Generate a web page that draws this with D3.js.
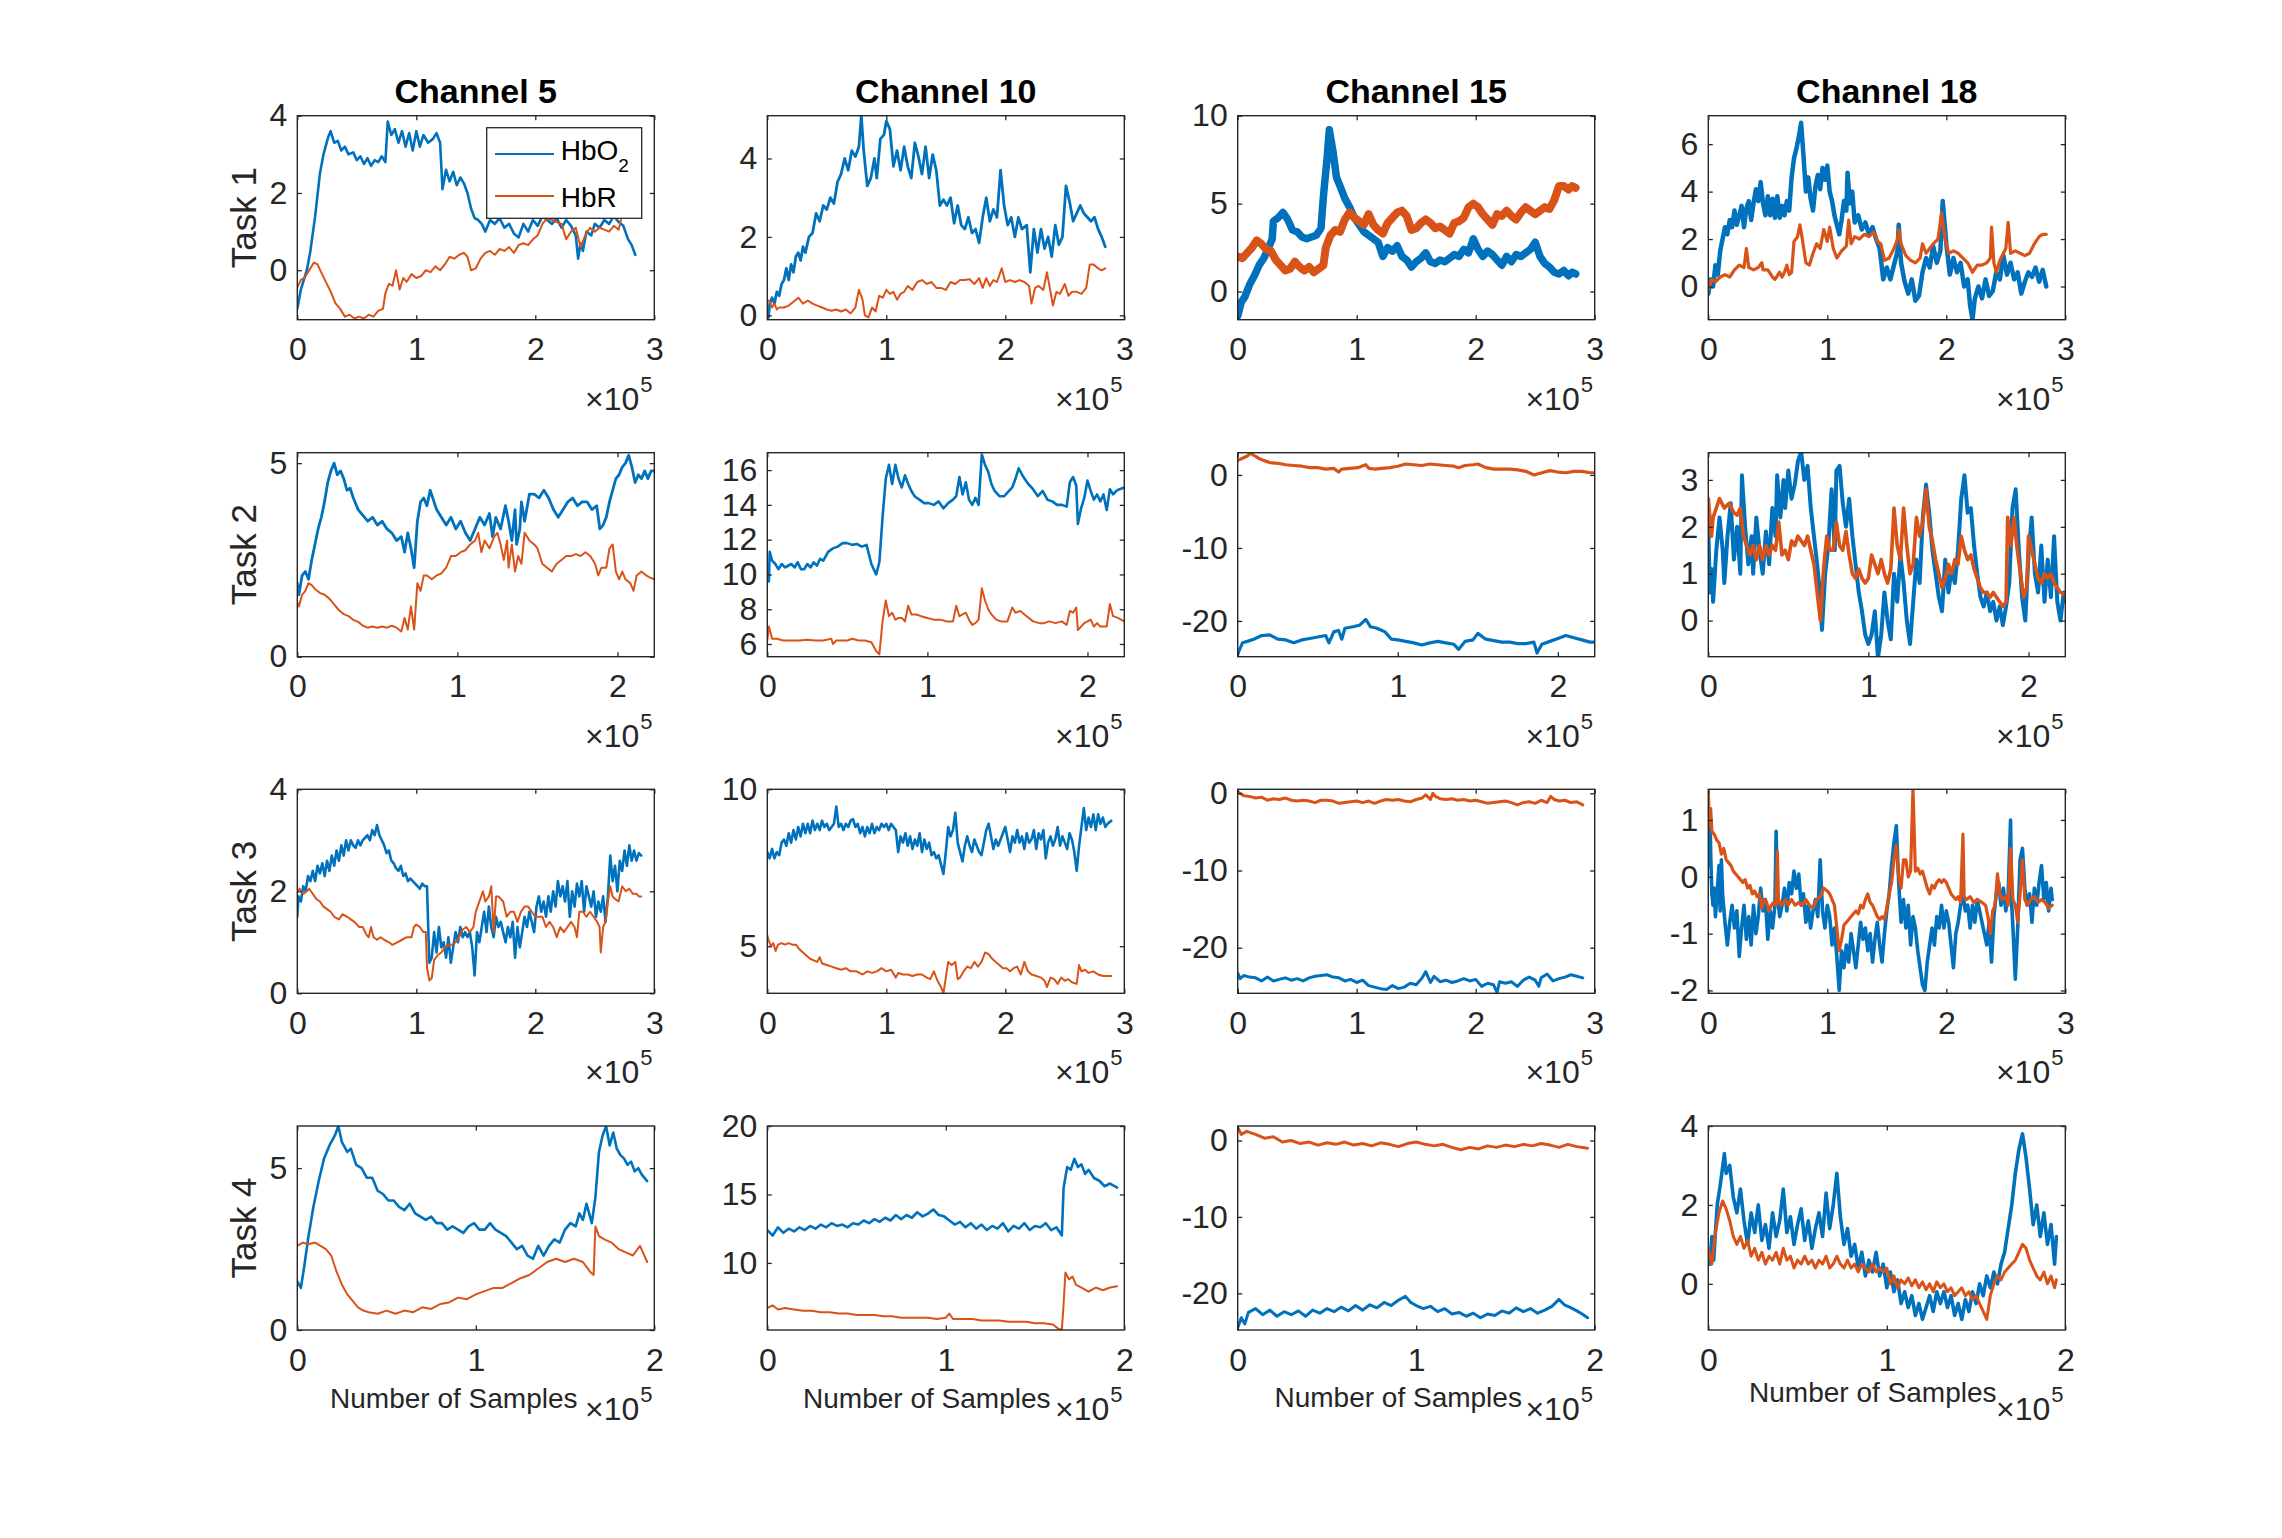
<!DOCTYPE html>
<html><head><meta charset="utf-8">
<script src="https://cdn.jsdelivr.net/npm/d3@7"></script>
<style>
body{margin:0;background:#fff}
text{font-family:"Liberation Sans",Arial,Helvetica,sans-serif}
</style>
</head><body>
<svg id="chart" width="2282" height="1538"></svg>
<script>
// ---------------- data (x in units of 10^5 samples) ----------------
const channels = ["Channel 5", "Channel 10", "Channel 15", "Channel 18"];
const tasks = ["Task 1", "Task 2", "Task 3", "Task 4"];
const seriesNames = ["HbO", "HbR"];
const xLimits = [3, 2.23, 3, 2];
const xTickValues = [[0,1,2,3],[0,1,2],[0,1,2,3],[0,1,2]];
const yLimits = [
  [[-1.28,4],[-0.11,5.09],[-1.6,10],[-1.4,7.2]],
  [[0,5.27],[5.27,17],[-24.9,3.05],[-0.77,3.58]],
  [[0,4],[3.5,10],[-25.9,0.52],[-2.05,1.54]],
  [[0,6.3],[5.1,20],[-24.8,1.9],[-1.17,4]]
];
const yTickValues = [
  [[0,2,4],[0,2,4],[0,5,10],[0,2,4,6]],
  [[0,5],[6,8,10,12,14,16],[-20,-10,0],[0,1,2,3]],
  [[0,2,4],[5,10],[-20,-10,0],[-2,-1,0,1]],
  [[0,5],[10,15,20],[-20,-10,0],[0,2,4]]
];

// Task 1
const t1c5_hbo = [[0,-1.0],[0.03,-0.5],[0.06,-0.2],[0.08,0.0],[0.11,0.5],[0.15,1.4],[0.19,2.5],[0.22,3.0],[0.26,3.45],[0.28,3.6],[0.31,3.3],[0.34,3.35],[0.37,3.1],[0.4,3.2],[0.43,3.0],[0.47,3.05],[0.5,2.85],[0.53,2.95],[0.56,2.75],[0.59,2.9],[0.62,2.7],[0.65,2.85],[0.68,2.8],[0.71,2.95],[0.74,2.8],[0.76,3.85],[0.79,3.5],[0.82,3.65],[0.85,3.3],[0.88,3.6],[0.91,3.2],[0.94,3.55],[0.97,3.1],[1.0,3.6],[1.03,3.2],[1.06,3.5],[1.1,3.3],[1.14,3.4],[1.17,3.55],[1.2,3.3],[1.22,2.1],[1.25,2.6],[1.28,2.3],[1.31,2.55],[1.34,2.2],[1.37,2.4],[1.4,2.25],[1.43,2.0],[1.46,1.6],[1.49,1.35],[1.52,1.3],[1.55,1.2],[1.58,1.0],[1.62,1.3],[1.66,1.2],[1.7,1.35],[1.74,1.1],[1.78,1.2],[1.82,0.95],[1.86,0.85],[1.9,1.2],[1.94,1.0],[1.98,1.3],[2.02,1.15],[2.06,1.4],[2.1,1.3],[2.14,1.2],[2.18,1.35],[2.22,1.1],[2.26,1.3],[2.3,1.15],[2.34,0.9],[2.36,0.3],[2.38,0.7],[2.4,0.5],[2.43,1.0],[2.47,0.9],[2.5,1.2],[2.54,1.1],[2.58,1.3],[2.62,1.2],[2.66,1.4],[2.7,1.25],[2.74,1.15],[2.78,0.8],[2.81,0.65],[2.84,0.4]];
const t1c5_hbr = [[0,-0.45],[0.03,-0.25],[0.06,-0.2],[0.1,0.0],[0.14,0.2],[0.17,0.15],[0.2,-0.05],[0.24,-0.3],[0.28,-0.55],[0.32,-0.85],[0.36,-1.0],[0.4,-1.2],[0.44,-1.15],[0.48,-1.25],[0.52,-1.2],[0.56,-1.25],[0.6,-1.15],[0.64,-1.2],[0.68,-1.05],[0.72,-1.0],[0.74,-0.6],[0.77,-0.35],[0.8,-0.4],[0.83,0.0],[0.86,-0.5],[0.89,-0.2],[0.92,-0.3],[0.96,-0.1],[1.0,-0.2],[1.04,-0.15],[1.08,0.0],[1.12,-0.05],[1.16,0.1],[1.2,0.0],[1.24,0.15],[1.28,0.35],[1.32,0.3],[1.36,0.4],[1.4,0.45],[1.43,0.35],[1.46,0.0],[1.5,0.05],[1.54,0.3],[1.58,0.45],[1.62,0.5],[1.66,0.4],[1.7,0.55],[1.74,0.5],[1.78,0.6],[1.82,0.45],[1.86,0.65],[1.9,0.7],[1.94,0.65],[1.98,0.8],[2.02,0.9],[2.06,1.2],[2.1,1.35],[2.14,1.3],[2.18,1.25],[2.22,1.2],[2.26,0.8],[2.3,1.0],[2.34,1.1],[2.38,0.6],[2.42,0.9],[2.46,1.1],[2.5,1.0],[2.54,1.1],[2.58,1.05],[2.62,1.0],[2.66,1.15],[2.7,1.05],[2.72,1.3]];
const t1c10_hbo = [[0,0.1],[0.01,-0.05],[0.02,0.3],[0.04,0.45],[0.06,0.3],[0.08,0.6],[0.1,0.5],[0.12,0.8],[0.14,0.9],[0.16,1.2],[0.18,0.9],[0.2,1.3],[0.22,1.1],[0.24,1.5],[0.26,1.6],[0.28,1.4],[0.3,1.75],[0.32,1.6],[0.35,2.0],[0.38,2.1],[0.41,2.6],[0.44,2.4],[0.47,2.8],[0.5,2.7],[0.53,3.0],[0.56,2.85],[0.59,3.4],[0.62,3.6],[0.65,4.0],[0.68,3.7],[0.71,4.2],[0.74,4.05],[0.77,4.3],[0.79,5.1],[0.81,4.2],[0.84,3.3],[0.87,3.5],[0.9,4.0],[0.92,3.5],[0.95,4.5],[0.98,4.6],[1.0,4.95],[1.03,4.75],[1.06,3.8],[1.09,4.2],[1.12,3.7],[1.15,4.3],[1.18,3.8],[1.21,3.5],[1.24,4.4],[1.27,4.05],[1.3,3.6],[1.33,4.3],[1.36,3.5],[1.39,4.1],[1.42,3.7],[1.45,2.8],[1.48,2.95],[1.51,2.8],[1.54,3.0],[1.57,2.35],[1.6,2.8],[1.63,2.3],[1.66,2.2],[1.69,2.5],[1.72,2.1],[1.75,2.2],[1.78,1.85],[1.81,2.5],[1.84,3.0],[1.87,2.4],[1.9,2.7],[1.93,2.5],[1.96,3.7],[1.99,2.8],[2.02,2.3],[2.05,2.5],[2.08,2.0],[2.11,2.5],[2.14,2.2],[2.18,2.3],[2.21,1.1],[2.24,2.2],[2.27,1.6],[2.3,2.2],[2.33,1.7],[2.36,2.0],[2.39,1.5],[2.42,2.3],[2.45,1.8],[2.48,2.0],[2.51,3.3],[2.54,2.9],[2.57,2.4],[2.6,2.6],[2.63,2.8],[2.66,2.6],[2.69,2.5],[2.72,2.4],[2.75,2.5],[2.78,2.2],[2.81,2.0],[2.84,1.75]];
const t1c10_hbr = [[0,0.4],[0.02,0.35],[0.04,0.2],[0.06,0.3],[0.08,0.15],[0.1,0.2],[0.14,0.2],[0.18,0.25],[0.22,0.35],[0.26,0.45],[0.3,0.3],[0.34,0.38],[0.38,0.3],[0.42,0.25],[0.46,0.2],[0.5,0.15],[0.54,0.12],[0.58,0.15],[0.62,0.1],[0.66,0.15],[0.7,0.05],[0.74,0.2],[0.77,0.65],[0.8,0.4],[0.82,0.0],[0.85,-0.05],[0.88,0.2],[0.91,0.1],[0.94,0.5],[0.97,0.45],[1.0,0.65],[1.03,0.55],[1.06,0.6],[1.09,0.4],[1.12,0.55],[1.15,0.6],[1.18,0.75],[1.22,0.65],[1.26,0.85],[1.3,0.9],[1.34,0.8],[1.38,0.85],[1.42,0.7],[1.46,0.7],[1.5,0.65],[1.54,0.85],[1.58,0.8],[1.62,0.9],[1.66,0.9],[1.7,0.92],[1.74,0.8],[1.78,0.95],[1.81,0.7],[1.84,0.95],[1.87,0.75],[1.9,0.9],[1.93,0.85],[1.97,1.2],[2.0,0.85],[2.04,0.9],[2.08,0.85],[2.12,0.9],[2.16,0.85],[2.2,0.75],[2.22,0.3],[2.25,0.7],[2.28,0.75],[2.32,0.65],[2.35,1.1],[2.38,0.6],[2.4,0.25],[2.43,0.6],[2.46,0.55],[2.5,0.8],[2.53,0.5],[2.56,0.6],[2.6,0.6],[2.64,0.55],[2.68,0.7],[2.71,1.3],[2.74,1.3],[2.78,1.2],[2.81,1.15],[2.84,1.2]];
const t1c15_hbo = [[0,-1.4],[0.03,-0.6],[0.06,-0.3],[0.1,0.4],[0.14,0.9],[0.18,1.5],[0.22,1.9],[0.26,2.5],[0.29,3.0],[0.3,4.0],[0.34,4.2],[0.38,4.5],[0.42,4.1],[0.46,3.5],[0.5,3.4],[0.54,3.1],[0.58,3.0],[0.62,3.1],[0.66,3.2],[0.7,3.6],[0.72,5.4],[0.75,7.5],[0.77,9.2],[0.8,8.0],[0.83,6.5],[0.86,6.0],[0.9,5.3],[0.94,4.8],[0.98,4.2],[1.02,3.8],[1.06,3.4],[1.1,3.2],[1.14,3.0],[1.18,2.8],[1.22,2.0],[1.26,2.5],[1.3,2.3],[1.34,2.6],[1.38,2.0],[1.42,1.8],[1.46,1.4],[1.5,1.7],[1.54,1.9],[1.58,2.2],[1.62,1.7],[1.66,1.6],[1.7,1.8],[1.74,1.7],[1.78,1.9],[1.82,2.1],[1.86,2.0],[1.9,2.4],[1.94,2.2],[1.98,3.0],[2.02,2.4],[2.06,2.0],[2.1,2.3],[2.14,2.1],[2.18,1.8],[2.22,1.5],[2.26,2.0],[2.3,1.7],[2.34,2.1],[2.38,2.0],[2.42,2.2],[2.46,2.4],[2.5,2.8],[2.54,2.0],[2.58,1.6],[2.62,1.4],[2.66,1.1],[2.7,1.0],[2.74,1.2],[2.78,0.9],[2.81,1.1],[2.84,1.0]];
const t1c15_hbr = [[0,2.0],[0.04,1.9],[0.08,2.2],[0.12,2.5],[0.16,2.9],[0.2,2.7],[0.24,2.4],[0.28,2.3],[0.32,1.8],[0.36,1.5],[0.4,1.2],[0.44,1.3],[0.48,1.7],[0.52,1.4],[0.56,1.2],[0.6,1.4],[0.64,1.1],[0.68,1.3],[0.72,1.5],[0.74,2.5],[0.78,3.2],[0.82,3.5],[0.86,3.4],[0.9,4.1],[0.94,4.5],[0.98,4.2],[1.02,4.0],[1.06,3.8],[1.1,4.4],[1.14,3.8],[1.18,3.5],[1.22,3.3],[1.26,3.9],[1.3,4.2],[1.34,4.5],[1.38,4.6],[1.42,4.3],[1.46,3.5],[1.5,3.6],[1.54,3.9],[1.58,4.1],[1.62,3.9],[1.66,3.6],[1.7,3.7],[1.74,3.5],[1.78,3.3],[1.82,3.9],[1.86,4.0],[1.9,4.2],[1.94,4.8],[1.98,5.0],[2.02,4.8],[2.06,4.4],[2.1,4.1],[2.14,3.8],[2.18,4.4],[2.22,4.3],[2.26,4.6],[2.3,4.3],[2.34,4.1],[2.38,4.5],[2.42,4.8],[2.46,4.6],[2.5,4.4],[2.54,4.6],[2.58,4.8],[2.62,4.7],[2.66,5.2],[2.7,6.0],[2.74,6.0],[2.78,5.8],[2.81,6.0],[2.84,5.9]];
const t1c18_hbo = [[0,-0.3],[0.02,0.3],[0.04,0.0],[0.06,0.9],[0.08,0.5],[0.1,1.5],[0.12,2.0],[0.14,2.5],[0.16,2.2],[0.18,2.8],[0.2,2.5],[0.22,3.2],[0.24,2.6],[0.26,3.0],[0.28,3.4],[0.3,2.5],[0.32,3.3],[0.34,3.6],[0.36,2.8],[0.38,3.5],[0.4,4.1],[0.42,3.6],[0.44,4.4],[0.46,3.5],[0.48,3.0],[0.5,3.8],[0.52,3.0],[0.54,3.7],[0.56,2.9],[0.58,3.8],[0.6,2.9],[0.62,3.4],[0.64,3.0],[0.66,3.6],[0.68,3.2],[0.7,4.6],[0.72,5.4],[0.74,5.8],[0.76,6.3],[0.78,6.9],[0.8,5.5],[0.82,4.0],[0.84,4.6],[0.86,3.7],[0.88,3.2],[0.9,4.2],[0.92,4.7],[0.94,4.1],[0.96,5.0],[0.98,4.5],[1.0,5.1],[1.02,4.0],[1.04,3.6],[1.06,3.0],[1.08,2.6],[1.1,2.2],[1.12,2.8],[1.14,3.6],[1.16,3.2],[1.17,4.8],[1.19,3.5],[1.21,4.0],[1.23,2.7],[1.26,3.0],[1.29,2.4],[1.32,2.7],[1.35,2.2],[1.38,2.5],[1.41,2.0],[1.44,1.6],[1.47,0.3],[1.5,0.8],[1.53,0.3],[1.56,0.9],[1.59,1.5],[1.6,2.6],[1.62,1.0],[1.65,0.2],[1.68,-0.3],[1.71,0.3],[1.74,-0.6],[1.77,-0.4],[1.8,0.6],[1.83,1.2],[1.86,0.8],[1.89,1.7],[1.92,1.0],[1.95,1.5],[1.97,3.6],[2.0,1.8],[2.03,0.5],[2.06,1.2],[2.09,0.6],[2.12,1.0],[2.15,0.0],[2.18,0.3],[2.2,-0.8],[2.22,-1.4],[2.24,-0.5],[2.27,0.0],[2.3,-0.5],[2.33,0.3],[2.36,-0.4],[2.39,-0.2],[2.42,0.6],[2.45,0.3],[2.48,1.3],[2.51,0.5],[2.54,1.0],[2.57,0.3],[2.6,0.6],[2.63,-0.3],[2.66,0.2],[2.69,0.6],[2.72,0.4],[2.75,0.8],[2.78,0.2],[2.81,0.7],[2.84,0.0]];
const t1c18_hbr = [[0,-0.1],[0.03,0.3],[0.06,0.2],[0.1,0.4],[0.14,0.5],[0.18,0.4],[0.22,0.7],[0.26,0.9],[0.3,0.8],[0.32,1.6],[0.34,0.8],[0.38,0.7],[0.42,0.8],[0.45,1.0],[0.46,0.7],[0.5,0.7],[0.54,0.4],[0.56,0.3],[0.6,0.6],[0.62,0.4],[0.64,0.6],[0.66,0.9],[0.68,0.5],[0.7,0.6],[0.72,1.9],[0.75,2.1],[0.77,2.6],[0.79,2.0],[0.82,1.0],[0.85,0.9],[0.88,1.4],[0.91,1.8],[0.94,1.6],[0.97,2.4],[1.0,1.9],[1.02,2.5],[1.05,1.6],[1.08,1.2],[1.12,1.5],[1.16,1.7],[1.18,2.8],[1.2,1.8],[1.23,2.1],[1.27,2.0],[1.31,2.2],[1.35,2.1],[1.39,2.3],[1.42,1.9],[1.45,1.8],[1.48,1.1],[1.52,1.2],[1.56,1.6],[1.59,2.0],[1.6,2.4],[1.62,1.8],[1.66,1.3],[1.7,1.1],[1.74,1.0],[1.78,1.2],[1.8,1.8],[1.83,1.4],[1.86,1.6],[1.89,1.8],[1.93,2.0],[1.96,3.1],[1.99,2.0],[2.02,1.4],[2.06,1.5],[2.1,1.4],[2.14,1.2],[2.18,1.0],[2.22,0.6],[2.26,0.9],[2.3,0.9],[2.34,1.0],[2.37,1.2],[2.38,2.5],[2.4,1.0],[2.42,0.6],[2.45,1.1],[2.48,1.4],[2.5,1.6],[2.52,2.7],[2.54,1.4],[2.58,1.5],[2.62,1.4],[2.66,1.3],[2.7,1.4],[2.74,1.8],[2.78,2.1],[2.81,2.2],[2.84,2.2]];

// Task 2
const t2c5_hbo = [[0,1.9],[0.01,1.6],[0.03,2.1],[0.05,2.2],[0.07,2.0],[0.09,2.5],[0.11,2.9],[0.13,3.3],[0.15,3.6],[0.17,4.0],[0.19,4.5],[0.21,4.8],[0.23,5.0],[0.25,4.7],[0.27,4.8],[0.29,4.6],[0.31,4.3],[0.33,4.35],[0.35,4.1],[0.38,3.8],[0.41,3.65],[0.44,3.5],[0.47,3.6],[0.5,3.4],[0.53,3.5],[0.56,3.3],[0.59,3.2],[0.62,3.0],[0.65,3.1],[0.67,2.7],[0.69,3.2],[0.71,2.8],[0.73,2.3],[0.75,3.5],[0.77,4.0],[0.79,4.1],[0.81,3.9],[0.83,4.3],[0.85,4.05],[0.87,3.8],[0.9,3.6],[0.93,3.4],[0.96,3.6],[0.99,3.3],[1.02,3.5],[1.05,3.2],[1.08,3.0],[1.11,3.3],[1.14,3.6],[1.17,3.4],[1.2,3.7],[1.22,3.1],[1.24,3.6],[1.27,3.3],[1.3,3.9],[1.32,3.5],[1.34,3.0],[1.36,3.8],[1.37,2.9],[1.39,3.3],[1.4,4.0],[1.42,3.5],[1.45,4.2],[1.48,4.2],[1.51,4.1],[1.54,4.3],[1.57,4.1],[1.6,3.8],[1.63,3.6],[1.66,3.8],[1.69,4.0],[1.72,4.1],[1.75,3.9],[1.78,4.0],[1.81,4.0],[1.84,3.8],[1.87,3.9],[1.89,3.3],[1.91,3.4],[1.93,3.6],[1.95,4.0],[1.97,4.3],[1.99,4.6],[2.01,4.7],[2.03,4.9],[2.05,5.0],[2.07,5.2],[2.09,4.9],[2.11,4.5],[2.13,4.7],[2.15,4.6],[2.17,4.8],[2.19,4.6],[2.21,4.8],[2.23,4.8]];
const t2c5_hbr = [[0,1.4],[0.01,1.3],[0.03,1.6],[0.05,1.7],[0.07,1.9],[0.09,1.85],[0.11,1.75],[0.14,1.65],[0.17,1.6],[0.2,1.5],[0.23,1.35],[0.26,1.2],[0.29,1.1],[0.32,1.05],[0.35,0.95],[0.38,0.9],[0.41,0.8],[0.44,0.75],[0.47,0.78],[0.5,0.75],[0.53,0.78],[0.56,0.75],[0.59,0.8],[0.62,0.75],[0.65,0.65],[0.67,1.0],[0.69,0.7],[0.71,1.3],[0.73,0.7],[0.75,1.9],[0.77,1.7],[0.79,2.1],[0.81,2.1],[0.84,2.0],[0.87,2.1],[0.9,2.15],[0.93,2.3],[0.96,2.6],[0.99,2.6],[1.02,2.7],[1.05,2.75],[1.08,2.9],[1.11,3.0],[1.13,3.2],[1.15,2.7],[1.17,3.0],[1.2,2.8],[1.23,3.1],[1.25,3.2],[1.27,2.9],[1.29,2.5],[1.31,3.0],[1.32,2.3],[1.34,2.9],[1.36,2.2],[1.38,2.6],[1.4,2.4],[1.42,3.2],[1.45,3.0],[1.48,2.9],[1.5,2.8],[1.53,2.4],[1.56,2.3],[1.59,2.2],[1.62,2.4],[1.65,2.5],[1.68,2.6],[1.71,2.6],[1.74,2.65],[1.77,2.6],[1.8,2.7],[1.83,2.6],[1.86,2.4],[1.88,2.1],[1.9,2.3],[1.93,2.3],[1.95,2.8],[1.97,2.9],[1.99,2.2],[2.01,2.0],[2.03,2.2],[2.05,2.0],[2.08,1.9],[2.1,1.7],[2.12,2.1],[2.15,2.2],[2.18,2.1],[2.2,2.05],[2.23,2.0]];
const t2c10_hbo = [[0,9.8],[0.01,9.6],[0.015,11.3],[0.03,10.8],[0.05,10.6],[0.07,10.3],[0.09,10.6],[0.11,10.4],[0.13,10.5],[0.15,10.6],[0.17,10.4],[0.19,10.7],[0.21,10.3],[0.23,10.3],[0.25,10.6],[0.27,10.4],[0.29,10.7],[0.31,10.5],[0.33,10.9],[0.35,10.8],[0.38,11.3],[0.41,11.5],[0.44,11.6],[0.47,11.8],[0.5,11.8],[0.53,11.7],[0.56,11.75],[0.59,11.6],[0.62,11.7],[0.65,10.6],[0.68,10.0],[0.7,10.7],[0.72,13.3],[0.74,15.5],[0.76,16.3],[0.78,15.2],[0.8,16.3],[0.82,15.5],[0.84,15.0],[0.86,15.7],[0.88,15.2],[0.9,14.8],[0.92,14.5],[0.95,14.3],[0.98,14.1],[1.01,14.1],[1.04,14.0],[1.07,14.2],[1.1,13.8],[1.13,14.1],[1.16,14.3],[1.18,14.5],[1.2,15.6],[1.22,14.6],[1.24,15.3],[1.26,14.3],[1.28,14.0],[1.3,14.4],[1.32,14.0],[1.34,16.9],[1.36,16.3],[1.38,15.9],[1.4,15.2],[1.42,14.8],[1.45,14.5],[1.48,14.5],[1.5,14.7],[1.53,15.0],[1.55,15.5],[1.57,16.1],[1.6,15.6],[1.63,15.2],[1.66,14.9],[1.69,14.5],[1.72,14.8],[1.75,14.3],[1.78,14.2],[1.81,14.0],[1.84,14.0],[1.87,13.9],[1.89,15.3],[1.91,15.6],[1.93,15.1],[1.94,12.9],[1.96,13.8],[1.98,14.4],[2.0,15.4],[2.02,14.8],[2.04,14.3],[2.06,14.6],[2.08,14.2],[2.1,14.6],[2.12,13.7],[2.14,14.9],[2.16,14.6],[2.18,14.8],[2.2,14.9],[2.23,15.0]];
const t2c10_hbr = [[0,6.2],[0.01,7.0],[0.03,6.3],[0.06,6.3],[0.1,6.2],[0.15,6.2],[0.2,6.2],[0.25,6.25],[0.3,6.2],[0.35,6.2],[0.4,6.3],[0.41,6.0],[0.43,6.2],[0.47,6.2],[0.5,6.2],[0.53,6.3],[0.57,6.2],[0.61,6.2],[0.65,6.1],[0.68,5.6],[0.7,5.4],[0.72,7.3],[0.74,8.5],[0.76,7.6],[0.78,7.8],[0.8,7.4],[0.82,7.5],[0.84,7.5],[0.86,7.3],[0.88,8.2],[0.9,7.7],[0.93,7.7],[0.96,7.6],[1.0,7.5],[1.04,7.4],[1.08,7.4],[1.12,7.3],[1.16,7.3],[1.18,8.2],[1.2,7.6],[1.22,7.7],[1.24,7.8],[1.26,7.4],[1.28,7.1],[1.3,7.2],[1.32,7.4],[1.34,9.2],[1.36,8.5],[1.38,8.0],[1.4,7.7],[1.43,7.4],[1.46,7.3],[1.5,7.3],[1.53,8.1],[1.55,7.8],[1.58,7.9],[1.62,7.6],[1.66,7.3],[1.7,7.2],[1.73,7.2],[1.76,7.3],[1.8,7.2],[1.84,7.3],[1.87,7.1],[1.89,7.9],[1.91,7.8],[1.93,8.1],[1.94,6.8],[1.96,7.0],[1.98,7.2],[2.0,7.3],[2.02,7.4],[2.04,7.0],[2.06,7.2],[2.08,7.0],[2.1,7.0],[2.12,7.0],[2.14,8.3],[2.16,7.6],[2.19,7.5],[2.23,7.3]];
const t2c15_hbo = [[0,-24.6],[0.01,-24.0],[0.03,-23.0],[0.06,-22.8],[0.1,-22.5],[0.15,-22.0],[0.2,-21.9],[0.25,-22.5],[0.3,-22.6],[0.35,-23.0],[0.4,-22.6],[0.45,-22.4],[0.5,-22.2],[0.55,-22.0],[0.57,-23.0],[0.6,-21.5],[0.63,-21.3],[0.65,-22.5],[0.67,-21.0],[0.72,-20.8],[0.76,-20.6],[0.8,-19.8],[0.83,-20.8],[0.87,-21.0],[0.92,-21.5],[0.96,-22.5],[1.0,-22.6],[1.05,-22.8],[1.1,-23.0],[1.15,-23.3],[1.2,-23.0],[1.25,-22.8],[1.3,-23.0],[1.35,-23.2],[1.38,-23.9],[1.42,-22.8],[1.47,-22.6],[1.5,-21.7],[1.55,-22.5],[1.6,-22.7],[1.65,-22.9],[1.7,-22.9],[1.75,-23.1],[1.8,-23.1],[1.85,-22.9],[1.87,-24.4],[1.9,-23.2],[1.95,-22.8],[2.0,-22.4],[2.05,-22.0],[2.1,-22.3],[2.15,-22.6],[2.2,-22.9],[2.23,-22.9]];
const t2c15_hbr = [[0,2.0],[0.03,2.3],[0.06,2.6],[0.08,3.0],[0.1,2.7],[0.13,2.3],[0.16,2.0],[0.2,1.7],[0.25,1.6],[0.3,1.4],[0.35,1.3],[0.4,1.2],[0.45,1.0],[0.5,1.0],[0.55,0.8],[0.6,0.9],[0.63,0.4],[0.65,0.8],[0.7,0.9],[0.75,1.0],[0.8,1.4],[0.82,0.9],[0.86,0.8],[0.9,0.9],[0.95,1.0],[1.0,1.2],[1.05,1.5],[1.1,1.4],[1.15,1.3],[1.2,1.5],[1.25,1.4],[1.3,1.3],[1.35,1.2],[1.38,1.0],[1.42,1.3],[1.47,1.4],[1.5,1.5],[1.55,1.0],[1.6,0.8],[1.65,0.8],[1.7,0.8],[1.75,0.7],[1.8,0.5],[1.85,0.0],[1.9,0.3],[1.95,0.6],[2.0,0.4],[2.05,0.3],[2.1,0.5],[2.15,0.5],[2.2,0.3],[2.23,0.3]];
const t2c18_hbo = [[0,2.0],[0.01,0.6],[0.02,1.1],[0.03,0.4],[0.05,1.5],[0.07,2.2],[0.09,1.5],[0.1,0.8],[0.12,1.8],[0.14,2.5],[0.16,1.3],[0.18,2.0],[0.2,1.0],[0.21,3.1],[0.23,2.0],[0.25,1.2],[0.27,1.8],[0.28,1.0],[0.3,2.2],[0.32,1.5],[0.34,1.0],[0.36,1.9],[0.38,1.2],[0.4,2.4],[0.42,1.8],[0.43,3.1],[0.45,2.2],[0.47,3.0],[0.48,2.4],[0.5,3.2],[0.52,2.6],[0.54,2.9],[0.56,3.4],[0.58,3.6],[0.6,3.0],[0.62,3.3],[0.64,2.4],[0.66,1.8],[0.68,1.2],[0.7,0.5],[0.71,-0.2],[0.73,1.0],[0.75,1.6],[0.77,2.8],[0.79,1.5],[0.8,3.2],[0.82,3.3],[0.84,2.5],[0.86,2.0],[0.88,2.6],[0.9,1.8],[0.92,1.2],[0.94,0.6],[0.96,0.2],[0.98,-0.3],[1.0,-0.5],[1.02,-0.3],[1.04,0.2],[1.06,-0.8],[1.08,-0.3],[1.1,0.6],[1.12,0.0],[1.14,-0.4],[1.16,1.0],[1.18,0.4],[1.2,1.4],[1.22,0.8],[1.24,0.0],[1.26,-0.5],[1.28,0.4],[1.3,1.3],[1.32,0.8],[1.34,2.2],[1.36,2.9],[1.38,2.3],[1.4,1.5],[1.42,1.0],[1.44,0.5],[1.46,0.2],[1.48,1.3],[1.5,0.6],[1.52,1.1],[1.54,0.8],[1.56,1.5],[1.58,2.6],[1.6,3.1],[1.62,2.3],[1.64,2.4],[1.66,1.6],[1.68,1.0],[1.7,0.5],[1.72,0.3],[1.74,0.6],[1.76,0.2],[1.78,0.4],[1.8,0.0],[1.82,0.3],[1.84,-0.1],[1.86,0.3],[1.88,0.8],[1.9,2.4],[1.92,2.8],[1.94,1.5],[1.96,0.5],[1.98,0.0],[2.0,1.4],[2.02,2.2],[2.04,1.0],[2.06,0.6],[2.08,1.6],[2.1,0.4],[2.12,1.3],[2.14,0.5],[2.16,1.8],[2.18,0.4],[2.2,0.0],[2.22,0.6],[2.23,0.4]];
const t2c18_hbr = [[0,2.6],[0.01,2.2],[0.02,1.8],[0.03,2.2],[0.05,2.4],[0.07,2.6],[0.1,2.4],[0.13,2.5],[0.16,2.3],[0.18,2.25],[0.2,2.4],[0.22,1.8],[0.24,1.6],[0.26,1.4],[0.28,1.6],[0.3,1.3],[0.32,1.6],[0.34,1.3],[0.36,1.6],[0.38,1.4],[0.4,1.6],[0.42,1.5],[0.44,2.1],[0.46,1.4],[0.48,1.5],[0.5,1.3],[0.52,1.7],[0.54,1.6],[0.56,1.8],[0.58,1.7],[0.6,1.6],[0.62,1.8],[0.64,1.5],[0.66,1.2],[0.68,0.6],[0.7,0.0],[0.72,1.1],[0.74,1.8],[0.76,1.5],[0.78,1.5],[0.8,2.1],[0.82,1.6],[0.84,1.5],[0.86,1.9],[0.88,1.4],[0.9,1.0],[0.92,0.9],[0.94,1.1],[0.96,0.9],[0.98,0.8],[1.0,0.9],[1.02,1.4],[1.04,1.2],[1.06,1.0],[1.08,1.3],[1.1,1.0],[1.12,0.8],[1.14,1.1],[1.16,2.4],[1.18,1.6],[1.2,1.3],[1.22,2.4],[1.24,1.6],[1.26,1.0],[1.28,1.2],[1.3,2.2],[1.32,1.8],[1.34,2.1],[1.36,2.8],[1.38,2.0],[1.4,1.7],[1.42,1.3],[1.44,1.0],[1.46,0.7],[1.48,0.9],[1.5,1.2],[1.52,1.0],[1.54,1.3],[1.56,1.2],[1.58,1.8],[1.6,1.5],[1.62,1.3],[1.64,1.4],[1.66,1.1],[1.68,0.9],[1.7,0.7],[1.72,0.6],[1.74,0.6],[1.76,0.5],[1.78,0.6],[1.8,0.5],[1.82,0.4],[1.84,0.3],[1.86,0.4],[1.87,2.2],[1.89,1.6],[1.91,2.2],[1.93,1.5],[1.95,1.0],[1.97,0.5],[1.99,0.7],[2.0,1.8],[2.02,1.5],[2.04,1.2],[2.06,0.9],[2.08,0.8],[2.1,1.0],[2.12,0.9],[2.14,1.0],[2.16,0.8],[2.18,0.7],[2.2,0.6],[2.23,0.55]];

// Task 3
const t3c5_hbo = [[0,1.5],[0.01,1.9],[0.03,1.8],[0.05,2.1],[0.07,2.0],[0.09,2.3],[0.11,2.2],[0.13,2.4],[0.15,2.2],[0.17,2.5],[0.19,2.35],[0.21,2.55],[0.23,2.3],[0.25,2.6],[0.27,2.4],[0.29,2.7],[0.31,2.5],[0.33,2.8],[0.35,2.6],[0.37,2.9],[0.39,2.7],[0.41,3.0],[0.43,2.8],[0.45,3.0],[0.47,2.9],[0.49,2.85],[0.51,3.0],[0.53,2.9],[0.55,3.0],[0.57,3.05],[0.59,3.1],[0.61,3.0],[0.63,3.2],[0.65,3.1],[0.67,3.3],[0.69,3.1],[0.71,3.0],[0.73,2.9],[0.75,2.75],[0.77,2.8],[0.79,2.6],[0.81,2.55],[0.83,2.45],[0.85,2.4],[0.87,2.5],[0.89,2.3],[0.91,2.35],[0.93,2.2],[0.95,2.25],[0.97,2.2],[0.99,2.15],[1.01,2.1],[1.03,2.05],[1.05,2.15],[1.07,2.1],[1.09,2.1],[1.1,1.3],[1.11,0.6],[1.13,0.7],[1.15,1.2],[1.17,0.8],[1.19,1.3],[1.21,0.9],[1.23,1.0],[1.25,0.7],[1.27,1.1],[1.29,0.6],[1.31,0.9],[1.33,1.2],[1.35,1.0],[1.37,1.3],[1.39,1.1],[1.41,1.2],[1.43,1.1],[1.45,1.2],[1.47,0.9],[1.49,0.35],[1.51,1.2],[1.53,1.0],[1.55,1.3],[1.57,1.6],[1.59,1.2],[1.61,1.7],[1.63,1.3],[1.65,1.1],[1.67,1.5],[1.69,1.3],[1.71,1.4],[1.73,1.2],[1.75,1.0],[1.77,1.3],[1.79,1.1],[1.81,1.4],[1.83,0.7],[1.85,1.3],[1.87,0.9],[1.89,1.2],[1.91,1.5],[1.93,1.3],[1.95,1.6],[1.97,1.4],[1.99,1.2],[2.01,1.7],[2.03,1.9],[2.05,1.6],[2.07,1.8],[2.09,1.5],[2.11,1.9],[2.13,1.6],[2.15,2.0],[2.17,1.7],[2.19,2.2],[2.21,1.9],[2.23,2.1],[2.25,1.8],[2.27,2.2],[2.29,1.5],[2.31,2.0],[2.33,1.7],[2.35,2.15],[2.37,1.9],[2.39,2.2],[2.41,1.6],[2.43,2.1],[2.45,1.9],[2.47,1.7],[2.49,2.0],[2.51,1.5],[2.53,1.8],[2.55,1.6],[2.57,1.9],[2.59,1.4],[2.61,1.9],[2.63,2.7],[2.65,2.2],[2.67,2.5],[2.69,2.0],[2.71,2.6],[2.73,2.4],[2.75,2.8],[2.77,2.5],[2.79,2.9],[2.81,2.6],[2.83,2.8],[2.85,2.6],[2.87,2.75],[2.89,2.7]];
const t3c5_hbr = [[0,2.0],[0.02,2.05],[0.05,1.95],[0.08,2.0],[0.1,2.05],[0.13,1.95],[0.16,1.85],[0.19,1.8],[0.22,1.7],[0.25,1.65],[0.28,1.6],[0.31,1.5],[0.35,1.45],[0.38,1.55],[0.42,1.5],[0.45,1.45],[0.48,1.4],[0.52,1.3],[0.55,1.3],[0.58,1.15],[0.6,1.1],[0.62,1.3],[0.64,1.1],[0.67,1.05],[0.7,1.1],[0.73,1.05],[0.77,1.0],[0.8,0.95],[0.84,1.0],[0.88,1.05],[0.92,1.1],[0.96,1.1],[0.98,1.3],[1.0,1.35],[1.03,1.3],[1.06,1.2],[1.08,1.2],[1.09,0.5],[1.11,0.25],[1.13,0.3],[1.15,0.65],[1.18,0.75],[1.21,0.8],[1.24,0.9],[1.27,0.95],[1.3,0.95],[1.33,1.0],[1.36,1.1],[1.39,1.25],[1.42,1.3],[1.45,1.2],[1.48,1.3],[1.5,1.6],[1.53,1.8],[1.56,2.0],[1.58,1.8],[1.61,1.9],[1.63,2.1],[1.65,1.2],[1.67,1.9],[1.69,1.9],[1.71,1.85],[1.73,1.8],[1.76,1.5],[1.79,1.6],[1.82,1.6],[1.85,1.4],[1.88,1.6],[1.91,1.7],[1.94,1.7],[1.97,1.6],[2.0,1.5],[2.03,1.5],[2.06,1.5],[2.09,1.3],[2.12,1.4],[2.15,1.3],[2.18,1.1],[2.21,1.3],[2.24,1.2],[2.27,1.3],[2.3,1.4],[2.33,1.3],[2.35,1.1],[2.37,1.6],[2.4,1.6],[2.43,1.5],[2.46,1.6],[2.49,1.5],[2.52,1.4],[2.54,1.3],[2.55,0.8],[2.57,1.3],[2.59,1.4],[2.61,1.8],[2.63,2.1],[2.65,1.9],[2.67,1.85],[2.7,1.8],[2.73,2.1],[2.76,2.0],[2.79,2.05],[2.82,1.95],[2.85,1.95],[2.87,1.9],[2.89,1.9]];
const t3c10_hbo = [[0,8.0],[0.02,7.8],[0.04,8.1],[0.06,7.8],[0.08,8.0],[0.1,7.9],[0.12,8.3],[0.14,8.4],[0.16,8.2],[0.18,8.6],[0.2,8.3],[0.22,8.7],[0.24,8.4],[0.26,8.8],[0.28,8.5],[0.3,8.9],[0.32,8.6],[0.34,8.9],[0.36,8.6],[0.38,9.0],[0.4,8.7],[0.42,8.9],[0.44,8.7],[0.46,9.0],[0.48,8.8],[0.5,8.9],[0.52,8.7],[0.54,8.8],[0.56,8.9],[0.58,9.45],[0.6,8.8],[0.62,8.9],[0.64,8.7],[0.66,8.9],[0.68,8.8],[0.7,9.0],[0.72,9.05],[0.74,8.8],[0.76,8.9],[0.78,8.6],[0.8,8.8],[0.82,8.5],[0.84,8.8],[0.86,8.6],[0.88,8.9],[0.9,8.6],[0.92,8.8],[0.94,8.7],[0.96,8.9],[0.98,8.8],[1.0,8.9],[1.02,8.7],[1.04,8.9],[1.06,8.8],[1.08,8.7],[1.1,8.0],[1.12,8.5],[1.14,8.3],[1.16,8.6],[1.18,8.2],[1.2,8.5],[1.22,8.1],[1.24,8.4],[1.26,8.2],[1.28,8.6],[1.3,8.0],[1.32,8.4],[1.34,8.1],[1.36,8.3],[1.38,7.9],[1.4,8.0],[1.42,7.8],[1.44,7.9],[1.46,7.6],[1.48,7.3],[1.5,8.0],[1.52,8.8],[1.54,8.5],[1.56,8.7],[1.58,9.25],[1.6,8.3],[1.62,8.0],[1.64,7.7],[1.66,8.2],[1.68,8.5],[1.7,8.2],[1.72,8.0],[1.74,8.4],[1.76,8.2],[1.78,8.0],[1.8,7.9],[1.82,8.3],[1.84,8.7],[1.86,8.9],[1.88,8.5],[1.9,8.1],[1.92,8.4],[1.94,8.2],[1.96,8.4],[1.98,8.6],[2.0,8.8],[2.02,8.4],[2.04,8.0],[2.06,8.5],[2.08,8.3],[2.1,8.7],[2.12,8.3],[2.14,8.5],[2.16,8.1],[2.18,8.6],[2.2,8.3],[2.22,8.4],[2.24,8.7],[2.26,8.1],[2.28,8.6],[2.3,8.4],[2.32,8.7],[2.34,7.8],[2.36,8.3],[2.38,8.5],[2.4,8.2],[2.42,8.4],[2.44,8.8],[2.46,8.2],[2.48,8.5],[2.5,8.3],[2.52,8.1],[2.54,8.6],[2.56,8.4],[2.58,8.0],[2.6,7.4],[2.62,8.2],[2.64,8.8],[2.66,9.4],[2.68,8.7],[2.7,9.1],[2.72,8.8],[2.74,9.2],[2.76,8.7],[2.78,9.2],[2.8,8.9],[2.82,9.1],[2.84,8.8],[2.86,8.9],[2.89,9.0]];
const t3c10_hbr = [[0,5.35],[0.01,5.2],[0.03,5.0],[0.05,5.1],[0.07,4.85],[0.09,5.05],[0.12,5.1],[0.15,5.05],[0.18,5.1],[0.21,5.05],[0.24,5.05],[0.27,4.9],[0.3,4.8],[0.33,4.7],[0.36,4.6],[0.39,4.55],[0.42,4.5],[0.44,4.65],[0.46,4.45],[0.5,4.4],[0.54,4.35],[0.58,4.3],[0.62,4.25],[0.66,4.3],[0.7,4.2],[0.75,4.2],[0.8,4.1],[0.84,4.2],[0.88,4.15],[0.92,4.2],[0.96,4.3],[1.0,4.2],[1.04,4.25],[1.08,4.0],[1.1,4.15],[1.14,4.1],[1.18,4.1],[1.22,4.05],[1.26,4.1],[1.3,4.1],[1.34,4.0],[1.37,3.95],[1.4,4.2],[1.43,3.9],[1.46,3.7],[1.48,3.5],[1.5,4.0],[1.52,4.5],[1.55,4.4],[1.58,4.5],[1.6,3.95],[1.62,4.0],[1.65,4.2],[1.68,4.35],[1.71,4.3],[1.74,4.5],[1.77,4.35],[1.8,4.5],[1.83,4.8],[1.86,4.75],[1.89,4.6],[1.92,4.5],[1.95,4.4],[1.98,4.3],[2.01,4.3],[2.04,4.2],[2.07,4.3],[2.1,4.35],[2.13,4.1],[2.16,4.5],[2.19,4.2],[2.22,4.1],[2.26,4.05],[2.3,4.0],[2.33,3.9],[2.35,3.7],[2.38,4.0],[2.41,3.95],[2.44,3.8],[2.47,4.0],[2.5,3.9],[2.53,3.95],[2.56,3.85],[2.6,3.8],[2.62,4.4],[2.64,4.2],[2.67,4.25],[2.7,4.15],[2.74,4.2],[2.78,4.1],[2.82,4.05],[2.86,4.05],[2.89,4.05]];
const t3c15_hbo = [[0,-23.3],[0.02,-24.0],[0.05,-23.6],[0.1,-23.8],[0.15,-23.9],[0.2,-24.3],[0.25,-23.8],[0.3,-24.3],[0.35,-24.1],[0.4,-23.9],[0.45,-24.2],[0.5,-24.0],[0.55,-24.3],[0.6,-23.9],[0.65,-23.7],[0.7,-23.6],[0.75,-23.5],[0.8,-23.8],[0.85,-23.9],[0.9,-24.3],[0.95,-24.1],[1.0,-24.5],[1.05,-24.2],[1.1,-24.9],[1.15,-25.1],[1.2,-25.3],[1.25,-25.4],[1.3,-24.9],[1.35,-25.3],[1.4,-25.1],[1.45,-24.6],[1.5,-24.8],[1.55,-23.9],[1.58,-23.1],[1.62,-24.5],[1.65,-23.7],[1.7,-24.4],[1.75,-24.2],[1.8,-24.5],[1.85,-24.3],[1.9,-24.0],[1.95,-24.3],[2.0,-24.1],[2.05,-25.0],[2.1,-24.6],[2.15,-24.8],[2.18,-25.8],[2.2,-24.4],[2.25,-24.6],[2.3,-24.4],[2.35,-25.0],[2.4,-24.2],[2.45,-23.8],[2.5,-24.2],[2.53,-25.0],[2.55,-23.9],[2.6,-23.4],[2.65,-24.3],[2.7,-24.0],[2.75,-23.8],[2.8,-23.5],[2.85,-23.7],[2.9,-23.9]];
const t3c15_hbr = [[0,0.2],[0.05,-0.3],[0.1,-0.4],[0.15,-0.6],[0.2,-0.5],[0.25,-0.9],[0.3,-0.7],[0.35,-0.8],[0.4,-0.6],[0.45,-0.9],[0.5,-1.0],[0.55,-0.9],[0.6,-1.0],[0.65,-1.2],[0.7,-0.9],[0.75,-0.9],[0.8,-1.0],[0.85,-1.3],[0.9,-1.2],[0.95,-1.1],[1.0,-1.0],[1.05,-1.2],[1.1,-1.0],[1.15,-1.3],[1.2,-1.0],[1.25,-0.8],[1.3,-0.9],[1.35,-0.8],[1.4,-1.0],[1.45,-1.1],[1.5,-0.8],[1.55,-0.6],[1.58,-0.2],[1.6,-0.5],[1.62,-0.8],[1.64,0.0],[1.66,-0.4],[1.7,-0.7],[1.75,-0.8],[1.8,-0.7],[1.85,-0.9],[1.9,-0.8],[1.95,-1.0],[2.0,-0.9],[2.05,-1.1],[2.1,-1.3],[2.15,-1.2],[2.2,-1.1],[2.25,-1.0],[2.3,-1.2],[2.35,-1.5],[2.4,-1.2],[2.45,-1.1],[2.5,-1.3],[2.55,-0.9],[2.6,-1.2],[2.63,-0.4],[2.66,-0.8],[2.7,-1.0],[2.75,-0.9],[2.8,-1.2],[2.85,-1.1],[2.9,-1.5]];
const t3c18_hbo = [[0,0.7],[0.01,0.2],[0.015,1.1],[0.02,0.4],[0.03,-0.3],[0.04,-0.5],[0.05,-0.2],[0.06,-0.7],[0.07,-0.4],[0.08,-0.1],[0.09,0.2],[0.1,-0.6],[0.11,0.3],[0.12,-0.3],[0.14,-0.8],[0.16,-1.2],[0.18,-0.8],[0.2,-0.5],[0.22,-0.9],[0.24,-0.6],[0.26,-1.4],[0.28,-0.9],[0.3,-0.5],[0.32,-1.1],[0.34,-0.7],[0.36,-1.2],[0.38,-0.5],[0.4,-1.0],[0.42,-0.7],[0.44,-0.2],[0.46,-0.6],[0.48,-0.4],[0.5,-1.1],[0.52,-0.6],[0.54,-0.9],[0.56,-0.5],[0.57,0.8],[0.58,-0.3],[0.6,-0.7],[0.62,-0.5],[0.64,-0.2],[0.66,-0.6],[0.68,-0.1],[0.7,-0.3],[0.72,0.1],[0.74,-0.2],[0.76,0.05],[0.78,-0.5],[0.8,-0.3],[0.82,-0.8],[0.84,-0.5],[0.86,-0.9],[0.88,-0.6],[0.9,-0.4],[0.92,-0.7],[0.94,0.3],[0.96,-0.6],[0.98,-0.9],[1.0,-0.5],[1.02,-0.7],[1.04,-1.2],[1.06,-0.9],[1.08,-1.4],[1.1,-2.0],[1.12,-1.3],[1.14,-1.6],[1.16,-1.2],[1.18,-1.5],[1.2,-1.0],[1.22,-1.3],[1.24,-1.6],[1.26,-1.2],[1.28,-0.8],[1.3,-1.1],[1.32,-0.9],[1.34,-1.3],[1.36,-1.0],[1.38,-1.5],[1.4,-1.1],[1.42,-0.8],[1.44,-1.2],[1.46,-1.5],[1.48,-1.0],[1.5,-0.6],[1.52,-0.3],[1.54,0.2],[1.56,0.6],[1.58,0.9],[1.6,-0.1],[1.62,-0.8],[1.64,-0.4],[1.66,-0.9],[1.68,-0.5],[1.7,-1.2],[1.72,-0.7],[1.74,-0.9],[1.76,-1.3],[1.78,-1.6],[1.8,-1.9],[1.82,-2.0],[1.84,-1.5],[1.86,-1.2],[1.88,-0.9],[1.9,-1.2],[1.92,-0.7],[1.94,-0.9],[1.96,-0.5],[1.98,-0.9],[2.0,-0.6],[2.02,-0.8],[2.04,-1.2],[2.06,-1.6],[2.08,-1.0],[2.1,-0.8],[2.12,-0.5],[2.14,-0.3],[2.16,-0.6],[2.18,-0.5],[2.2,-0.9],[2.22,-0.5],[2.24,-0.8],[2.26,-0.4],[2.28,-0.6],[2.3,-0.8],[2.32,-1.0],[2.34,-1.2],[2.36,-0.8],[2.38,-1.5],[2.4,-0.7],[2.42,-0.3],[2.44,-0.1],[2.46,-0.5],[2.48,-0.2],[2.5,-0.6],[2.52,-0.3],[2.54,1.0],[2.55,-0.5],[2.56,-0.9],[2.58,-1.8],[2.6,-0.9],[2.62,0.3],[2.64,0.5],[2.66,-0.2],[2.68,-0.5],[2.7,-0.3],[2.72,-0.8],[2.74,-0.2],[2.76,-0.5],[2.78,-0.1],[2.8,0.2],[2.82,-0.4],[2.84,-0.1],[2.86,-0.6],[2.88,-0.2],[2.89,-0.4]];
const t3c18_hbr = [[0,1.5],[0.01,0.9],[0.02,1.2],[0.03,0.8],[0.05,0.75],[0.07,0.65],[0.09,0.6],[0.11,0.4],[0.13,0.5],[0.15,0.3],[0.17,0.25],[0.19,0.2],[0.21,0.1],[0.23,0.05],[0.25,0.0],[0.27,-0.05],[0.29,-0.1],[0.31,-0.05],[0.33,-0.2],[0.35,-0.15],[0.37,-0.3],[0.39,-0.25],[0.41,-0.35],[0.43,-0.3],[0.45,-0.55],[0.47,-0.4],[0.49,-0.45],[0.51,-0.6],[0.53,-0.5],[0.55,-0.45],[0.57,-0.5],[0.58,0.45],[0.59,-0.4],[0.61,-0.5],[0.63,-0.45],[0.65,-0.4],[0.67,-0.5],[0.7,-0.4],[0.73,-0.5],[0.76,-0.45],[0.79,-0.5],[0.82,-0.4],[0.85,-0.5],[0.88,-0.55],[0.91,-0.4],[0.94,-0.35],[0.97,-0.2],[1.0,-0.25],[1.02,-0.3],[1.04,-0.4],[1.06,-0.5],[1.08,-0.9],[1.1,-1.3],[1.12,-1.1],[1.14,-0.85],[1.16,-0.8],[1.18,-0.75],[1.2,-0.7],[1.22,-0.65],[1.24,-0.6],[1.26,-0.65],[1.28,-0.5],[1.3,-0.55],[1.32,-0.4],[1.34,-0.3],[1.36,-0.45],[1.38,-0.5],[1.4,-0.6],[1.42,-0.7],[1.44,-0.75],[1.46,-0.7],[1.48,-0.75],[1.5,-0.55],[1.52,-0.3],[1.54,-0.1],[1.56,0.3],[1.58,0.55],[1.6,0.0],[1.62,-0.2],[1.64,0.3],[1.66,0.3],[1.68,0.0],[1.7,0.1],[1.72,1.55],[1.74,0.1],[1.76,0.15],[1.78,0.05],[1.8,0.1],[1.82,-0.05],[1.84,-0.2],[1.86,-0.3],[1.88,-0.15],[1.9,-0.2],[1.92,-0.1],[1.94,-0.05],[1.96,-0.1],[1.98,-0.05],[2.0,-0.1],[2.02,-0.2],[2.04,-0.3],[2.06,-0.35],[2.08,-0.4],[2.1,-0.35],[2.12,-0.45],[2.14,0.75],[2.15,-0.35],[2.17,-0.4],[2.2,-0.35],[2.23,-0.45],[2.26,-0.4],[2.3,-0.45],[2.33,-0.5],[2.35,-0.7],[2.37,-1.0],[2.39,-0.6],[2.41,-0.5],[2.43,0.05],[2.45,-0.3],[2.47,-0.4],[2.5,-0.35],[2.52,-0.5],[2.54,0.5],[2.56,-0.4],[2.58,-0.5],[2.6,-0.8],[2.62,-0.3],[2.64,0.3],[2.66,-0.4],[2.68,-0.5],[2.71,-0.4],[2.74,-0.35],[2.77,-0.45],[2.8,-0.4],[2.83,-0.45],[2.86,-0.55],[2.89,-0.5]];

// Task 4
const t4c5_hbo = [[0,1.5],[0.02,1.3],[0.04,2.0],[0.06,2.8],[0.09,3.8],[0.12,4.6],[0.15,5.3],[0.18,5.7],[0.21,6.0],[0.23,6.3],[0.25,5.8],[0.28,5.5],[0.3,5.6],[0.33,5.1],[0.36,5.0],[0.39,4.7],[0.42,4.7],[0.45,4.3],[0.48,4.2],[0.51,4.0],[0.54,4.0],[0.57,3.8],[0.6,3.7],[0.63,3.9],[0.66,3.6],[0.69,3.5],[0.72,3.4],[0.75,3.5],[0.78,3.3],[0.81,3.3],[0.84,3.1],[0.87,3.2],[0.9,3.1],[0.93,3.0],[0.96,3.2],[0.99,3.3],[1.02,3.1],[1.05,3.1],[1.08,3.3],[1.11,3.1],[1.14,3.0],[1.17,2.9],[1.2,2.7],[1.23,2.5],[1.26,2.6],[1.29,2.3],[1.32,2.2],[1.35,2.6],[1.38,2.3],[1.41,2.6],[1.44,2.8],[1.47,2.7],[1.5,3.1],[1.53,3.3],[1.56,3.2],[1.58,3.6],[1.6,3.4],[1.62,3.9],[1.65,3.3],[1.67,4.1],[1.69,5.5],[1.71,6.0],[1.73,6.3],[1.75,5.7],[1.77,6.1],[1.79,5.6],[1.81,5.4],[1.83,5.3],[1.85,5.1],[1.87,5.2],[1.89,4.9],[1.91,5.0],[1.93,4.8],[1.96,4.6]];
const t4c5_hbr = [[0,2.6],[0.03,2.7],[0.06,2.65],[0.1,2.7],[0.13,2.6],[0.16,2.5],[0.19,2.3],[0.22,1.8],[0.25,1.4],[0.28,1.1],[0.31,0.9],[0.34,0.7],[0.37,0.6],[0.4,0.55],[0.45,0.5],[0.5,0.6],[0.55,0.5],[0.6,0.6],[0.65,0.55],[0.7,0.7],[0.75,0.65],[0.8,0.8],[0.85,0.85],[0.9,1.0],[0.95,0.95],[1.0,1.1],[1.05,1.2],[1.1,1.3],[1.15,1.3],[1.2,1.45],[1.25,1.6],[1.3,1.7],[1.35,1.9],[1.4,2.1],[1.45,2.2],[1.5,2.1],[1.55,2.2],[1.6,2.1],[1.64,1.8],[1.66,1.7],[1.67,3.2],[1.69,2.9],[1.72,2.8],[1.76,2.7],[1.8,2.5],[1.84,2.4],[1.88,2.3],[1.92,2.6],[1.96,2.1]];
const t4c10_hbo = [[0,12.4],[0.03,12.0],[0.06,12.6],[0.09,12.2],[0.12,12.5],[0.15,12.3],[0.18,12.6],[0.21,12.4],[0.24,12.7],[0.27,12.5],[0.3,12.8],[0.33,12.6],[0.36,12.9],[0.39,12.7],[0.42,12.8],[0.45,12.6],[0.48,12.9],[0.51,12.8],[0.54,13.1],[0.57,12.9],[0.6,13.2],[0.63,13.0],[0.66,13.3],[0.69,13.1],[0.72,13.5],[0.75,13.2],[0.78,13.5],[0.81,13.3],[0.84,13.7],[0.87,13.4],[0.9,13.6],[0.93,13.9],[0.96,13.5],[0.99,13.4],[1.02,13.1],[1.05,12.8],[1.08,13.0],[1.11,12.6],[1.14,12.9],[1.17,12.5],[1.2,12.8],[1.23,12.4],[1.26,12.7],[1.29,12.5],[1.32,12.9],[1.35,12.3],[1.38,12.7],[1.41,12.5],[1.44,12.9],[1.47,12.4],[1.5,12.7],[1.53,12.6],[1.56,12.9],[1.59,12.4],[1.62,12.6],[1.65,12.0],[1.66,15.5],[1.68,17.0],[1.7,16.8],[1.72,17.6],[1.74,17.0],[1.76,17.2],[1.78,16.5],[1.8,16.8],[1.83,16.2],[1.86,16.0],[1.89,15.6],[1.92,15.8],[1.96,15.5]];
const t4c10_hbr = [[0,6.7],[0.03,6.9],[0.06,6.6],[0.1,6.7],[0.15,6.6],[0.2,6.5],[0.25,6.5],[0.3,6.4],[0.35,6.4],[0.4,6.3],[0.45,6.3],[0.5,6.2],[0.55,6.2],[0.6,6.2],[0.65,6.1],[0.7,6.1],[0.75,6.0],[0.8,6.0],[0.85,6.0],[0.9,6.0],[0.95,5.9],[1.0,6.0],[1.02,6.3],[1.04,5.9],[1.1,5.9],[1.15,5.9],[1.2,5.8],[1.25,5.8],[1.3,5.8],[1.35,5.7],[1.4,5.7],[1.45,5.7],[1.5,5.6],[1.55,5.6],[1.6,5.5],[1.63,5.2],[1.65,5.1],[1.66,7.0],[1.67,9.3],[1.69,8.8],[1.71,9.0],[1.73,8.4],[1.76,8.2],[1.8,7.9],[1.84,8.2],[1.88,8.0],[1.92,8.2],[1.96,8.3]];
const t4c15_hbo = [[0,-24.5],[0.02,-23.2],[0.04,-24.0],[0.06,-22.5],[0.1,-22.0],[0.14,-22.8],[0.18,-22.2],[0.22,-23.0],[0.26,-22.4],[0.3,-22.8],[0.34,-22.3],[0.38,-23.0],[0.42,-22.2],[0.46,-22.6],[0.5,-22.0],[0.54,-22.4],[0.58,-21.8],[0.62,-22.3],[0.66,-21.6],[0.7,-22.2],[0.74,-21.5],[0.78,-21.9],[0.82,-21.2],[0.86,-21.6],[0.9,-20.9],[0.94,-20.4],[0.97,-21.2],[1.0,-21.6],[1.04,-22.0],[1.08,-21.7],[1.12,-22.4],[1.16,-22.0],[1.2,-22.7],[1.24,-22.5],[1.28,-23.0],[1.32,-22.6],[1.36,-23.2],[1.4,-22.7],[1.44,-22.9],[1.48,-22.3],[1.52,-22.6],[1.56,-21.9],[1.6,-22.4],[1.64,-22.0],[1.68,-22.6],[1.72,-22.2],[1.76,-21.7],[1.8,-20.8],[1.83,-21.5],[1.86,-21.8],[1.9,-22.3],[1.93,-22.7],[1.96,-23.2]];
const t4c15_hbr = [[0,1.7],[0.02,0.8],[0.05,1.2],[0.1,0.8],[0.15,0.3],[0.2,0.5],[0.25,-0.2],[0.3,0.0],[0.35,-0.4],[0.4,-0.2],[0.45,-0.6],[0.5,-0.3],[0.55,-0.5],[0.6,-0.2],[0.65,-0.6],[0.7,-0.4],[0.75,-0.7],[0.8,-0.3],[0.85,-0.5],[0.9,-0.8],[0.95,-0.4],[1.0,-0.2],[1.05,-0.5],[1.1,-0.7],[1.15,-0.5],[1.2,-0.9],[1.25,-1.2],[1.3,-0.9],[1.35,-1.1],[1.4,-0.7],[1.45,-0.9],[1.5,-0.6],[1.55,-0.8],[1.6,-0.5],[1.65,-0.7],[1.7,-0.4],[1.75,-0.6],[1.8,-0.9],[1.85,-0.5],[1.9,-0.8],[1.96,-1.0]];
const t4c18_hbo = [[0,0.9],[0.01,0.5],[0.02,1.2],[0.03,0.6],[0.05,2.0],[0.07,2.6],[0.09,3.3],[0.1,2.8],[0.12,3.0],[0.14,2.2],[0.16,1.8],[0.18,2.4],[0.2,1.6],[0.22,1.0],[0.24,1.8],[0.26,1.3],[0.28,2.0],[0.3,1.1],[0.32,1.5],[0.34,0.9],[0.36,1.8],[0.38,1.2],[0.4,1.6],[0.42,2.4],[0.44,1.3],[0.46,1.7],[0.48,1.0],[0.5,1.5],[0.52,1.9],[0.54,1.1],[0.56,1.6],[0.58,0.9],[0.6,1.4],[0.62,1.8],[0.64,1.2],[0.66,2.3],[0.68,1.4],[0.7,2.0],[0.72,2.8],[0.74,1.7],[0.76,1.0],[0.78,1.4],[0.8,0.7],[0.82,1.0],[0.84,0.4],[0.86,0.8],[0.88,0.2],[0.9,0.6],[0.92,0.3],[0.94,0.8],[0.96,0.2],[0.98,0.5],[1.0,-0.1],[1.02,0.3],[1.04,-0.2],[1.06,0.1],[1.08,-0.5],[1.1,-0.2],[1.12,-0.6],[1.14,-0.3],[1.16,-0.8],[1.18,-0.5],[1.2,-0.9],[1.22,-0.6],[1.24,-0.3],[1.26,-0.7],[1.28,-0.2],[1.3,-0.5],[1.32,-0.2],[1.34,-0.6],[1.36,-0.3],[1.38,-0.8],[1.4,-0.5],[1.42,-0.9],[1.44,-0.4],[1.46,-0.7],[1.48,-0.2],[1.5,-0.5],[1.52,0.0],[1.54,-0.3],[1.56,0.2],[1.58,-0.1],[1.6,0.3],[1.62,0.0],[1.64,0.5],[1.66,0.8],[1.68,1.4],[1.7,2.0],[1.72,2.8],[1.74,3.4],[1.76,3.8],[1.78,3.2],[1.8,2.4],[1.82,1.5],[1.84,2.0],[1.86,1.2],[1.88,1.8],[1.9,1.0],[1.92,1.5],[1.94,0.5],[1.95,1.2]];
const t4c18_hbr = [[0,0.9],[0.02,0.5],[0.04,1.3],[0.06,1.8],[0.08,2.1],[0.1,1.9],[0.12,1.6],[0.14,1.2],[0.16,1.0],[0.18,1.2],[0.2,0.9],[0.22,1.1],[0.24,0.7],[0.26,0.9],[0.28,0.6],[0.3,0.8],[0.32,0.5],[0.34,0.7],[0.36,0.6],[0.38,0.8],[0.4,0.5],[0.42,0.9],[0.44,0.6],[0.46,0.7],[0.48,0.4],[0.5,0.6],[0.52,0.5],[0.54,0.7],[0.56,0.5],[0.58,0.6],[0.6,0.4],[0.62,0.6],[0.64,0.5],[0.66,0.7],[0.68,0.4],[0.7,0.5],[0.72,0.7],[0.74,0.5],[0.76,0.4],[0.78,0.6],[0.8,0.4],[0.82,0.5],[0.84,0.3],[0.86,0.5],[0.88,0.4],[0.9,0.3],[0.92,0.5],[0.94,0.3],[0.96,0.4],[0.98,0.3],[1.0,0.4],[1.02,0.0],[1.04,0.2],[1.06,-0.1],[1.08,0.1],[1.1,0.0],[1.12,0.15],[1.14,-0.05],[1.16,0.1],[1.18,-0.1],[1.2,0.05],[1.22,-0.15],[1.24,0.0],[1.26,-0.2],[1.28,0.05],[1.3,-0.1],[1.32,0.0],[1.34,-0.2],[1.36,-0.1],[1.38,-0.3],[1.4,-0.2],[1.42,-0.1],[1.44,-0.3],[1.46,-0.2],[1.48,-0.4],[1.5,-0.3],[1.52,-0.5],[1.54,-0.7],[1.56,-0.9],[1.58,-0.3],[1.6,0.0],[1.62,0.2],[1.64,0.1],[1.66,0.3],[1.68,0.4],[1.7,0.5],[1.72,0.6],[1.74,0.8],[1.76,1.0],[1.78,0.9],[1.8,0.6],[1.82,0.4],[1.84,0.2],[1.86,0.1],[1.88,0.3],[1.9,0.0],[1.92,0.2],[1.94,-0.1],[1.95,0.1]];

const panelSeries = [
  [[t1c5_hbo,t1c5_hbr],[t1c10_hbo,t1c10_hbr],[t1c15_hbo,t1c15_hbr],[t1c18_hbo,t1c18_hbr]],
  [[t2c5_hbo,t2c5_hbr],[t2c10_hbo,t2c10_hbr],[t2c15_hbo,t2c15_hbr],[t2c18_hbo,t2c18_hbr]],
  [[t3c5_hbo,t3c5_hbr],[t3c10_hbo,t3c10_hbr],[t3c15_hbo,t3c15_hbr],[t3c18_hbo,t3c18_hbr]],
  [[t4c5_hbo,t4c5_hbr],[t4c10_hbo,t4c10_hbr],[t4c15_hbo,t4c15_hbr],[t4c18_hbo,t4c18_hbr]]
];

// ---------------- styles / layout ----------------
const colors = ["#0072BD", "#D95319"];
const lineWidths = [
  [[2.6,2.0],[2.8,2.0],[7.5,8],[4.5,3.2]],
  [[2.8,2.0],[2.6,2.0],[3.2,3.2],[4.0,3.6]],
  [[2.6,2.0],[2.6,2.0],[3.0,3.0],[3.6,3.2]],
  [[2.6,2.0],[2.6,2.0],[3.0,3.0],[3.6,3.0]]
];
const W = 357, H = 204;
const colLeft = [297.3, 767.3, 1237.7, 1708.3];
const rowTop = [115.7, 452.7, 789.3, 1126];
const axisColor = "#262626";
const TICK = 4.5;
const TICK_FONT = 32;
const xlabelDx = [-22, -19, -18, -14];
const xlabelDy = [78, 78, 77, 72];

const svg = d3.select("#chart");

panelSeries.forEach((rowData, r) => {
  rowData.forEach((pair, c) => {
    const g = svg.append("g").attr("transform", `translate(${colLeft[c]},${rowTop[r]})`);
    const x = d3.scaleLinear().domain([0, xLimits[r]]).range([0, W]);
    const y = d3.scaleLinear().domain(yLimits[r][c]).range([H, 0]);
    const clipId = `clip-${r}-${c}`;
    g.append("clipPath").attr("id", clipId).append("rect").attr("width", W).attr("height", H);

    g.append("rect").attr("width", W).attr("height", H).attr("fill", "#fff");

    const line = d3.line().x(d => x(d[0])).y(d => y(d[1]));
    const lg = g.append("g").attr("clip-path", `url(#${clipId})`);
    pair.forEach((s, k) => {
      lg.append("path").datum(s)
        .attr("d", line)
        .attr("fill", "none")
        .attr("stroke", colors[k])
        .attr("stroke-width", lineWidths[r][c][k])
        .attr("stroke-linejoin", "round")
        .attr("stroke-linecap", "round");
    });

    const fmt = d => String(d);
    const styleAxis = sel => {
      sel.select(".domain").remove();
      sel.selectAll(".tick line").attr("stroke", axisColor).attr("stroke-width", 1.3);
      sel.selectAll("text").attr("fill", axisColor).attr("font-size", TICK_FONT)
        .attr("font-family", '"Liberation Sans", Arial, sans-serif');
    };
    g.append("g").attr("transform", `translate(0,${H})`)
      .call(d3.axisBottom(x).tickValues(xTickValues[r]).tickFormat(fmt).tickSizeInner(-TICK).tickSizeOuter(0).tickPadding(18))
      .call(styleAxis);
    g.append("g")
      .call(d3.axisTop(x).tickValues(xTickValues[r]).tickFormat("").tickSizeInner(-TICK).tickSizeOuter(0))
      .call(styleAxis);
    g.append("g")
      .call(d3.axisLeft(y).tickValues(yTickValues[r][c]).tickFormat(fmt).tickSizeInner(-TICK).tickSizeOuter(0).tickPadding(10))
      .call(styleAxis);
    g.append("g").attr("transform", `translate(${W},0)`)
      .call(d3.axisRight(y).tickValues(yTickValues[r][c]).tickFormat("").tickSizeInner(-TICK).tickSizeOuter(0))
      .call(styleAxis);

    g.append("rect").attr("width", W).attr("height", H)
      .attr("fill", "none").attr("stroke", axisColor).attr("stroke-width", 1.4);

    // exponent label
    g.append("text").attr("x", W - 15).attr("y", H + 90).attr("text-anchor", "end")
      .attr("font-size", TICK_FONT).attr("fill", axisColor).text("\u00d710");
    g.append("text").attr("x", W - 14).attr("y", H + 72)
      .attr("font-size", 22).attr("fill", axisColor).text("5");

    if (r === 0) {
      g.append("text").attr("x", W / 2).attr("y", -13).attr("text-anchor", "middle")
        .attr("font-size", 34).attr("font-weight", "bold").attr("fill", "#000").text(channels[c]);
    }
    if (c === 0) {
      g.append("text").attr("transform", `translate(-41,${H / 2}) rotate(-90)`)
        .attr("text-anchor", "middle").attr("font-size", 35).attr("fill", axisColor).text(tasks[r]);
    }
    if (r === 3) {
      g.append("text").attr("x", W / 2 + xlabelDx[c]).attr("y", H + xlabelDy[c])
        .attr("text-anchor", "middle").attr("font-size", 28).attr("fill", axisColor).text("Number of Samples");
    }

    if (r === 0 && c === 0) {
      const lgd = g.append("g").attr("transform", `translate(${W - 167.6},12)`);
      lgd.append("rect").attr("width", 155).attr("height", 90.6)
        .attr("fill", "#fff").attr("stroke", axisColor).attr("stroke-width", 1.3);
      const rowsY = [26.3, 68.3];
      seriesNames.forEach((nm, k) => {
        lgd.append("line").attr("x1", 8.3).attr("x2", 67.3).attr("y1", rowsY[k]).attr("y2", rowsY[k])
          .attr("stroke", colors[k]).attr("stroke-width", 2);
        const t = lgd.append("text").attr("x", 74).attr("y", rowsY[k] + (k === 0 ? 6 : 10.7))
          .attr("font-size", 28).attr("fill", "#000").text(nm);
        if (k === 0) {
          t.append("tspan").attr("font-size", 19).attr("dy", 12).text("2");
        }
      });
    }
  });
});
</script>
</body></html>
